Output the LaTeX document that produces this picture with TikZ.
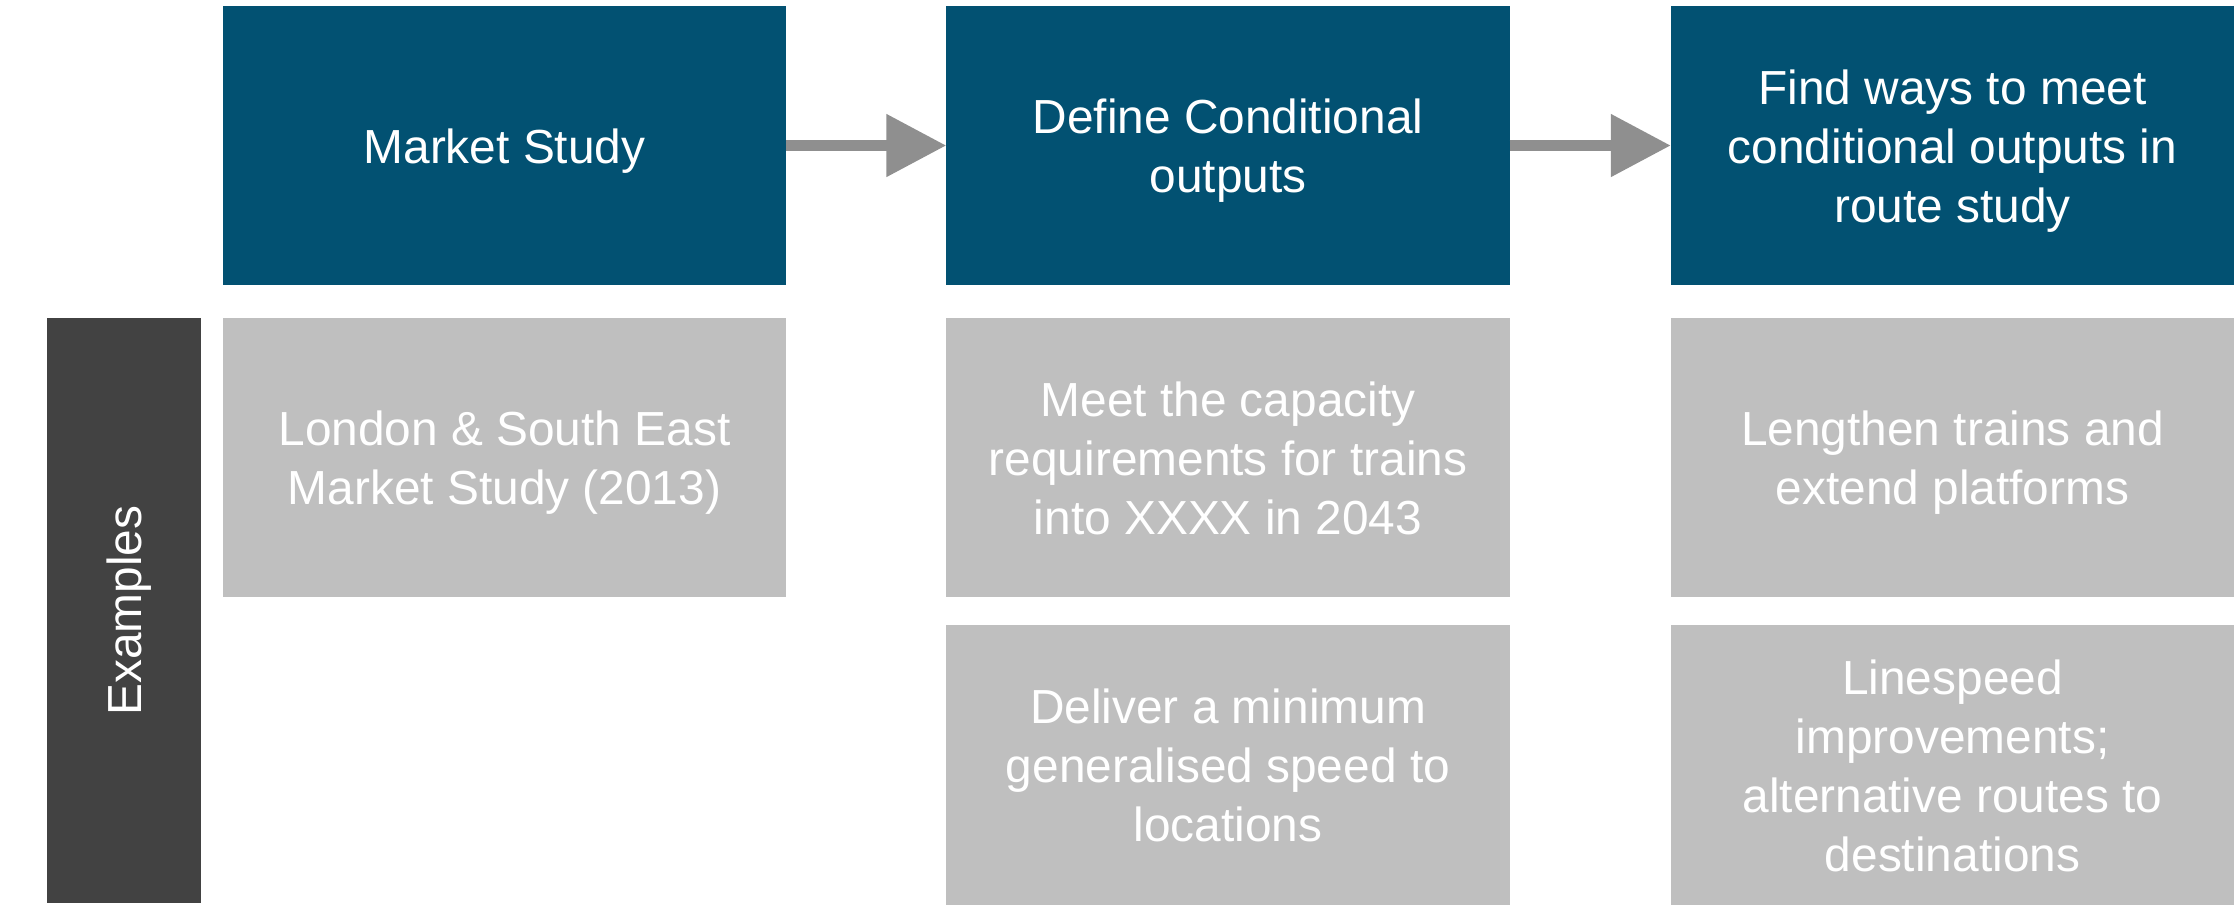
\documentclass[tikz,border=0pt]{standalone}
\usepackage{fontspec}
\setmainfont{Liberation Sans}
\usetikzlibrary{arrows.meta}
\definecolor{stepBlue}{HTML}{025172}
\definecolor{exampleGray}{HTML}{BFBFBF}
\definecolor{barGray}{HTML}{424242}
\definecolor{arrowGray}{HTML}{8F8F8F}
\newcommand{\boxText}[1]{\raisebox{-0.06cm}[\height][\depth]{\begin{tabular}{@{}c@{}}#1\end{tabular}}}
\tikzstyle{stepBox}=[shape = rectangle, fill = stepBlue, text = white, minimum width = 5.63cm, minimum height = 2.79cm, inner sep = 0pt, outer sep = 0pt, font = \fontsize{13.6}{16.8}\selectfont]
\tikzstyle{exampleBox}=[stepBox, fill = exampleGray]
\tikzstyle{flowArrow}=[draw = arrowGray, line width = 0.114cm, -{Triangle[length = 0.6cm, width = 0.6cm]}]
\begin{document}
\begin{tikzpicture}[x = 0.01cm, y = -0.01cm]
\useasboundingbox (0,0) rectangle (2239,911);
\node[stepBox] (s1) at (504.5,145.5) {\boxText{Market Study}};
\node[stepBox] (s2) at (1228,145.5) {\boxText{Define Conditional\\outputs}};
\node[stepBox] (s3) at (1952.5,145.5) {\boxText{Find ways to meet\\conditional outputs in\\route study}};
\node[stepBox, fill = barGray, rotate = 90, minimum width = 5.85cm, minimum height = 1.54cm] (ex) at (124,610.5) {\boxText{Examples}};
\node[exampleBox] (e1) at (504.5,457.5) {\boxText{London \& South East\\Market Study (2013)}};
\node[exampleBox] (e2) at (1228,457.5) {\boxText{Meet the capacity\\requirements for trains\\into XXXX in 2043}};
\node[exampleBox] (e3) at (1952.5,457.5) {\boxText{Lengthen trains and\\extend platforms}};
\node[exampleBox] (e4) at (1228,765) {\boxText{Deliver a minimum\\generalised speed to\\locations}};
\node[exampleBox] (e5) at (1952.5,765) {\boxText{Linespeed\\improvements;\\alternative routes to\\destinations}};
\draw[flowArrow] (s1) -- (s2);
\draw[flowArrow] (s2) -- (s3);
\end{tikzpicture}
\end{document}
